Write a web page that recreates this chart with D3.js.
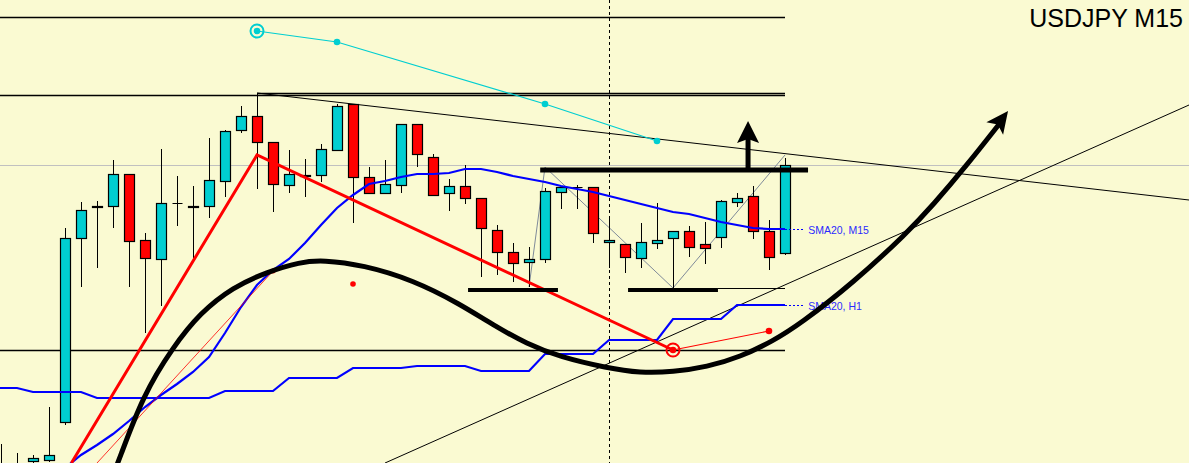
<!DOCTYPE html>
<html><head><meta charset="utf-8">
<script src="https://cdn.jsdelivr.net/npm/d3@7"></script>
<style>html,body{margin:0;padding:0;background:#FAFAD2;}svg{display:block;}</style>
</head><body>
<svg id="c" width="1189" height="463"></svg>
<script>
// ---- DATA (bar index = M15 bars, prices USDJPY) ----
const symbolLabel = "USDJPY M15";
const bars = d3.range(50);
const opens = [109.060,109.060,109.078,109.080,109.156,109.524,109.586,109.588,109.652,109.520,
109.482,109.594,109.586,109.588,109.638,109.740,109.768,109.716,109.630,109.648,
109.650,109.700,109.792,109.646,109.614,109.630,109.752,109.686,109.614,109.628,
109.604,109.540,109.496,109.476,109.482,109.616,109.626,109.626,109.516,109.512,
109.484,109.514,109.524,109.538,109.512,109.526,109.596,109.608,109.538,109.494];
const highs = [109.112,109.094,109.090,109.186,109.544,109.596,109.598,109.680,109.652,109.534,
109.702,109.648,109.628,109.724,109.740,109.788,109.814,109.716,109.700,109.682,
109.712,109.792,109.792,109.666,109.680,109.752,109.752,109.692,109.642,109.670,
109.604,109.550,109.514,109.506,109.624,109.626,109.630,109.626,109.566,109.512,
109.554,109.594,109.538,109.548,109.556,109.600,109.614,109.628,109.560,109.684];
const lows = [109.056,109.056,109.074,109.076,109.150,109.426,109.464,109.544,109.426,109.334,
109.388,109.548,109.484,109.564,109.606,109.734,109.622,109.576,109.614,109.606,
109.636,109.698,109.554,109.614,109.614,109.614,109.666,109.610,109.578,109.592,
109.446,109.450,109.436,109.426,109.474,109.582,109.582,109.514,109.464,109.454,
109.464,109.502,109.424,109.486,109.472,109.504,109.586,109.522,109.460,109.490];
const closes = [109.070,109.070,109.084,109.090,109.524,109.580,109.588,109.652,109.518,109.484,
109.594,109.594,109.588,109.640,109.738,109.768,109.716,109.632,109.652,109.650,
109.702,109.788,109.646,109.614,109.632,109.752,109.692,109.610,109.628,109.604,
109.544,109.496,109.474,109.482,109.618,109.626,109.626,109.534,109.520,109.486,
109.516,109.520,109.538,109.506,109.504,109.598,109.604,109.538,109.486,109.670];
const smaM15Start = 4;
const smaM15 = [109.064,109.090,109.110,109.132,109.158,109.186,109.210,109.232,109.256,109.286,
109.334,109.386,109.430,109.460,109.482,109.514,109.550,109.584,109.610,109.632,
109.638,109.646,109.652,109.652,109.654,109.662,109.662,109.656,109.648,109.642,
109.636,109.628,109.622,109.616,109.608,109.600,109.592,109.584,109.576,109.572,
109.564,109.556,109.550,109.544,109.542,109.542];
const smaH1 = [109.224,109.216,109.204,109.204,109.218,109.244,109.264,109.268,109.258,109.292,109.320,109.362,109.390];
const smaLabels = ["SMA20, M15","SMA20, H1"];
// horizontal levels [price, fromBar, toBar]
const blackLevels = [[109.966,-1,49],[109.810,-1,49],[109.814,16,49],[109.300,-1,49]];
const grayLevel = 109.670;
const vLineBar = 38;
// trend lines [[bar,price],[bar,price]]
const trendDown = [[16,109.814],[74.25,109.600]];
const trendUp = [[24,109.074],[74.25,109.790]];
const cyanPts = [[16,109.938],[21,109.916],[34,109.792],[41,109.718]];
const zigzag = [[33,109.426],[34,109.666],[42,109.424],[49,109.690]];
const redThick = [[4.4,109.074],[16,109.690],[42,109.300]];
const redThin = [[6,109.074],[17,109.458]];
const redTail = [[42,109.300],[48,109.338]];
const redDot = [22,109.432];
const resistance = [33.7,50.44,109.660];
const supports = [[29.19,34.81,109.420],[39.19,44.81,109.420]];
const thinSupport = [44.81,49,109.424];
const upArrow = [46.69,109.664,109.758];
const curvePts = [[7.06,109.056],[7.31,109.074],[8.875,109.210],[10.75,109.306],[12.44,109.374],[14.5,109.426],
[16.625,109.456],[18.69,109.476],[20.125,109.480],[22.625,109.470],[25.75,109.440],[28.69,109.392],
[30.75,109.350],[32.875,109.312],[34.94,109.286],[37.875,109.264],[39.94,109.254],[42.0,109.256],
[44.125,109.266],[46.19,109.286],[48.25,109.318],[49.94,109.352],[53.25,109.434],[56.625,109.534],
[58.25,109.590],[60.375,109.670],[62.44,109.754]];
const curveTip = [62.94,109.778];

// ---- SCALES ----
const W = 1189, H = 463;
const x = d3.scaleLinear().domain([0, 1]).range([1, 17]);
const y = d3.scaleLinear().domain([109.074, 110.000]).range([463, 0]);
const svg = d3.select("#c");
svg.append("rect").attr("width", W).attr("height", H).attr("fill", "#FAFAD2");
const line = d3.line().x(d => x(d[0])).y(d => y(d[1]));

// gray level
svg.append("line").attr("x1", 0).attr("x2", W).attr("y1", Math.round(y(grayLevel)) + 0.5).attr("y2", Math.round(y(grayLevel)) + 0.5)
  .attr("stroke", "#c0c0c0").attr("stroke-width", 1);
// black levels
blackLevels.forEach(l => {
  const yy = Math.round(y(l[0])) + 0.5;
  svg.append("line").attr("x1", Math.max(0, x(l[1]))).attr("x2", x(l[2])).attr("y1", yy).attr("y2", yy)
    .attr("stroke", "#000").attr("stroke-width", 1.3);
});
// dotted vertical
svg.append("line").attr("x1", x(vLineBar) + 0.5).attr("x2", x(vLineBar) + 0.5).attr("y1", 0).attr("y2", H)
  .attr("stroke", "#000").attr("stroke-width", 1).attr("stroke-dasharray", "3,3");
// trend lines
[trendDown, trendUp].forEach(t => {
  svg.append("path").attr("d", line(t)).attr("fill", "none").attr("stroke", "#000").attr("stroke-width", 1);
});
// cyan line
svg.append("path").attr("d", line(cyanPts)).attr("fill", "none").attr("stroke", "#00CED1").attr("stroke-width", 1.2);
cyanPts.forEach(p => svg.append("circle").attr("cx", x(p[0])).attr("cy", y(p[1])).attr("r", 3.3).attr("fill", "#00CED1"));
svg.append("circle").attr("cx", x(cyanPts[0][0])).attr("cy", y(cyanPts[0][1])).attr("r", 6.5)
  .attr("fill", "none").attr("stroke", "#00CED1").attr("stroke-width", 2);
// zigzag
svg.append("path").attr("d", line(zigzag)).attr("fill", "none").attr("stroke", "#7f8a99").attr("stroke-width", 1);

// candles
const g = svg.append("g");
bars.forEach(i => {
  const cx = Math.round(x(i)) + 0.5;
  const o = opens[i], c = closes[i], h = highs[i], l = lows[i];
  g.append("line").attr("x1", cx).attr("x2", cx).attr("y1", y(h)).attr("y2", y(l)).attr("stroke", "#000").attr("stroke-width", 1);
  if (o === c) {
    g.append("line").attr("x1", cx - 5).attr("x2", cx + 5).attr("y1", Math.round(y(o)) + 0.5).attr("y2", Math.round(y(o)) + 0.5)
      .attr("stroke", "#000").attr("stroke-width", 1);
  } else {
    const top = Math.round(y(Math.max(o, c))), bot = Math.round(y(Math.min(o, c)));
    g.append("rect").attr("x", cx - 5).attr("width", 10).attr("y", top + 0.5).attr("height", Math.max(1, bot - top))
      .attr("fill", c > o ? "#00CED1" : "#FF0000").attr("stroke", "#000").attr("stroke-width", 1.2);
  }
});

// SMA H1 (step)
const h1Pts = [];
smaH1.forEach((v, k) => { h1Pts.push([4 * k - 2, v]); h1Pts.push([4 * k + 1, v]); });
svg.append("path").attr("d", line(h1Pts)).attr("fill", "none").attr("stroke", "#0000FF").attr("stroke-width", 2.2);
// SMA M15
const m15Pts = smaM15.map((v, k) => [smaM15Start + k, v]);
svg.append("path").attr("d", line(m15Pts)).attr("fill", "none").attr("stroke", "#0000FF").attr("stroke-width", 2.2);
// labels
[[smaM15[smaM15.length - 1], smaLabels[0]], [smaH1[smaH1.length - 1], smaLabels[1]]].forEach(d => {
  const yy = Math.round(y(d[0])) + 0.5;
  svg.append("line").attr("x1", x(49)).attr("x2", x(50.25)).attr("y1", yy).attr("y2", yy)
    .attr("stroke", "#0000FF").attr("stroke-width", 1).attr("stroke-dasharray", "2,2");
  svg.append("text").attr("x", x(50.45)).attr("y", yy + 4).text(d[1])
    .attr("font-family", "Liberation Sans, Arial, sans-serif").attr("font-size", 10.5).attr("fill", "#2a2aff");
});

// red lines
svg.append("path").attr("d", line(redThin)).attr("fill", "none").attr("stroke", "#FF0000").attr("stroke-width", 0.8);
svg.append("circle").attr("cx", x(redThin[1][0])).attr("cy", y(redThin[1][1])).attr("r", 2.5).attr("fill", "#FF0000");
svg.append("path").attr("d", line(redThick)).attr("fill", "none").attr("stroke", "#FF0000").attr("stroke-width", 3);
svg.append("path").attr("d", line(redTail)).attr("fill", "none").attr("stroke", "#FF0000").attr("stroke-width", 1.2);
svg.append("circle").attr("cx", x(redTail[1][0])).attr("cy", y(redTail[1][1])).attr("r", 3.3).attr("fill", "#FF0000");
svg.append("circle").attr("cx", x(redTail[0][0])).attr("cy", y(redTail[0][1])).attr("r", 3.3).attr("fill", "#FF0000");
svg.append("circle").attr("cx", x(redTail[0][0])).attr("cy", y(redTail[0][1])).attr("r", 6.5).attr("fill", "none")
  .attr("stroke", "#FF0000").attr("stroke-width", 2);
svg.append("circle").attr("cx", x(redDot[0])).attr("cy", y(redDot[1])).attr("r", 2.8).attr("fill", "#FF0000");

// resistance & supports
svg.append("line").attr("x1", x(resistance[0])).attr("x2", x(resistance[1])).attr("y1", y(resistance[2])).attr("y2", y(resistance[2]))
  .attr("stroke", "#000").attr("stroke-width", 5);
supports.forEach(s => svg.append("line").attr("x1", x(s[0])).attr("x2", x(s[1])).attr("y1", y(s[2])).attr("y2", y(s[2]))
  .attr("stroke", "#000").attr("stroke-width", 4));
svg.append("line").attr("x1", x(thinSupport[0])).attr("x2", x(thinSupport[1])).attr("y1", Math.round(y(thinSupport[2])) + 0.5)
  .attr("y2", Math.round(y(thinSupport[2])) + 0.5).attr("stroke", "#000").attr("stroke-width", 1);
// up arrow
{
  const ax = x(upArrow[0]), y0 = y(upArrow[1]), yt = y(upArrow[2]);
  svg.append("line").attr("x1", ax).attr("x2", ax).attr("y1", y0).attr("y2", yt + 18).attr("stroke", "#000").attr("stroke-width", 5);
  svg.append("path").attr("d", `M${ax},${yt} L${ax - 11},${yt + 22} L${ax},${yt + 18} L${ax + 11},${yt + 22} Z`).attr("fill", "#000");
}
// black curve
svg.append("path").attr("d", d3.line().x(d => x(d[0])).y(d => y(d[1])).curve(d3.curveBasis)(curvePts))
  .attr("fill", "none").attr("stroke", "#000").attr("stroke-width", 5).attr("stroke-linecap", "round");
{
  const tx = x(curveTip[0]), ty = y(curveTip[1]);
  const last = curvePts[curvePts.length - 2];
  const bx = x(last[0]), by = y(last[1]);
  const ang = Math.atan2(ty - by, tx - bx);
  const L = 22, Wd = 10.5, notch = 5;
  const ux = Math.cos(ang), uy = Math.sin(ang), px = -uy, py = ux;
  const p1 = [tx - L * ux + Wd * px, ty - L * uy + Wd * py];
  const p2 = [tx - L * ux - Wd * px, ty - L * uy - Wd * py];
  const pn = [tx - (L - notch) * ux, ty - (L - notch) * uy];
  svg.append("path").attr("d", `M${tx},${ty} L${p1} L${pn} L${p2} Z`).attr("fill", "#000");
}
// title
svg.append("text").attr("x", 1183).attr("y", 27).attr("text-anchor", "end").text(symbolLabel)
  .attr("font-family", "Liberation Sans, Arial, sans-serif").attr("font-size", 25).attr("fill", "#000");
</script>
</body></html>
